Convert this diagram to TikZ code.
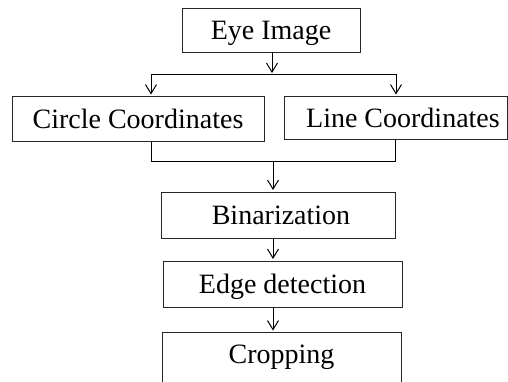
\documentclass[tikz,border=0pt]{standalone}
\usepackage{fontspec}
\setmainfont{Liberation Serif}
\usetikzlibrary{arrows.meta}
\begin{document}
\begin{tikzpicture}[x=1pt,y=-1pt,
  box/.style={draw=black!85, line width=1pt, inner sep=0pt, text height=19pt, text depth=0pt,
    font=\fontsize{28}{32}\selectfont},
  arr/.style={line width=1pt, -{Straight Barb[length=9pt,width=11pt]}, shorten >=1.5pt},
  link/.style={line width=1pt}]
\useasboundingbox (0,0) rectangle (508,381);
\clip (0,0) rectangle (508,381);
\fill[white] (0,0) rectangle (508,381);
\node[box, minimum width=178pt, minimum height=44pt] (eye) at (271,30) {Eye Image};
\node[box, minimum width=252pt, minimum height=45pt] (circ) at (138,119) {Circle Coordinates};
\node[box, minimum width=223pt, minimum height=42.5pt] (line) at (395.5,117.75) {\hspace*{15pt}Line Coordinates};
\node[box, minimum width=234pt, minimum height=46pt] (bin) at (278,215) {\hspace*{6pt}Binarization};
\node[box, minimum width=239pt, minimum height=46pt] (edge) at (282.5,284) {Edge detection};
\node[box, minimum width=239pt, text height=31pt, text depth=29pt, anchor=north] (crop) at (281.5,332) {Cropping};
\coordinate (b1m) at (272,74);
\coordinate (b1l) at (151,74);
\coordinate (b1r) at (396,74);
\coordinate (b2l) at (151,161.5);
\coordinate (b2r) at (395,161.5);
\coordinate (b2m) at (273,161.5);
\draw[arr, shorten >=1pt] (eye.south -| b1m) -- (b1m);
\draw[link] (b1l) -- (b1r);
\draw[arr] (b1l) -- (b1l |- circ.north);
\draw[arr] (b1r) -- (b1r |- line.north);
\draw[link] (b2l |- circ.south) -- (b2l) -- (b2r) -- (b2r |- line.south);
\draw[arr] (b2m) -- (b2m |- bin.north);
\draw[arr] (b2m |- bin.south) -- (b2m |- edge.north);
\draw[arr] (b2m |- edge.south) -- (b2m |- crop.north);
\end{tikzpicture}
\end{document}
